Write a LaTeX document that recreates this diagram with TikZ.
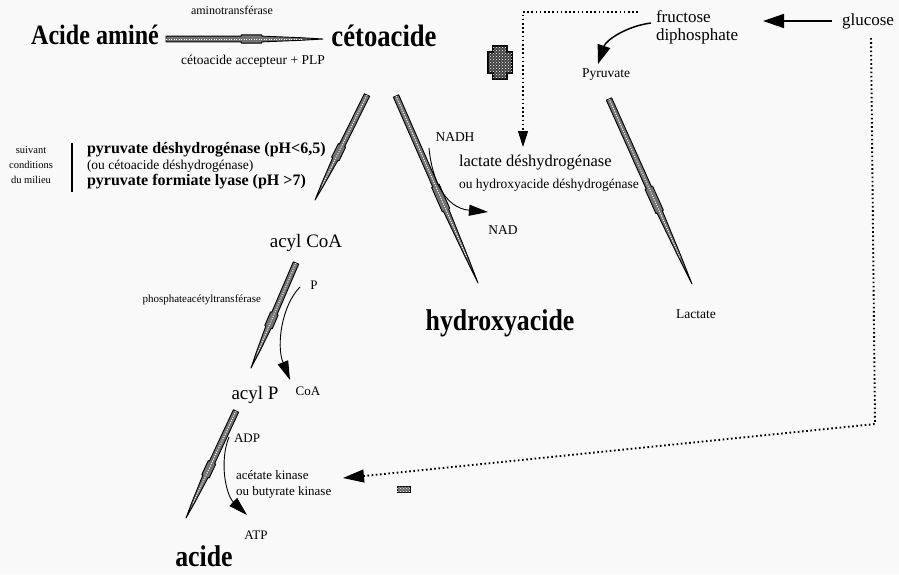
\documentclass[tikz,border=0pt]{standalone}
\usepackage{fontspec}
\setmainfont{Liberation Serif}
\newfontfamily\condserif{Liberation Serif}[FakeStretch=0.86]
\usetikzlibrary{calc,arrows.meta,patterns}
\definecolor{paper}{gray}{0.975}
\tikzset{
  every node/.style={inner sep=0pt, outer sep=0pt},
  tA/.style={font=\fontsize{10.5}{15}\selectfont},
  tB/.style={font=\fontsize{11}{13}\selectfont},
  tC/.style={font=\fontsize{12}{14}\selectfont},
  tH/.style={font=\fontsize{13}{16}\selectfont},
  tD/.style={font=\fontsize{13.5}{15}\selectfont},
  tE/.style={font=\fontsize{16.5}{18}\selectfont},
  tF/.style={font=\fontsize{17}{18}\selectfont},
  tG/.style={font=\fontsize{19}{21}\selectfont},
  bA/.style={font=\bfseries\fontsize{16}{18}\selectfont},
  bB/.style={font=\condserif\bfseries\fontsize{28}{32}\selectfont},
  bC/.style={font=\condserif\bfseries\fontsize{31}{34}\selectfont},
  bD/.style={font=\condserif\bfseries\fontsize{30}{34}\selectfont},
  taperband/.style={fill=black!55, draw=black, line width=0.9pt, line join=round},
  taperdots/.style={white, line width=0.9pt, dash pattern=on 1.1pt off 1.4pt},
  dotline/.style={line width=1.9pt, dash pattern=on 1.6pt off 2.6pt},
  bigtip/.style={line width=1.5pt, -{Triangle[length=21pt,width=14pt]}},
  midtip/.style={line width=1.5pt, -{Triangle[length=19pt,width=13pt]}},
  smalltip/.style={line width=0.9pt, -{Triangle[length=19pt,width=11pt]}},
  dottipA/.style={line width=1pt, -{Triangle[length=16pt,width=10pt]}},
  dottipB/.style={line width=1pt, -{Triangle[length=21pt,width=13pt]}},
  crossfill/.style={fill=black!75, draw=black, line width=1.8pt, line join=miter,
    postaction={pattern=crosshatch dots, pattern color=white}},
}
\newcommand\taperarrow[2]{%
  \coordinate (tpA) at (#1);
  \coordinate (tpB) at (#2);
  \coordinate (tp1) at ($(tpA)!0.48!(tpB)$);
  \coordinate (tp2) at ($(tpA)!0.61!(tpB)$);
  \coordinate (tp3) at ($(tpA)!0.86!(tpB)$);
  \filldraw[taperband] ($(tpA)!2.9pt!90:(tpB)$) -- ($(tp1)!2.9pt!90:(tpB)$) -- ($(tp1)!4.1pt!90:(tpB)$) -- ($(tp2)!4.1pt!90:(tpB)$) -- ($(tp2)!2.9pt!90:(tpB)$) -- ($(tp3)!1.3pt!90:(tpB)$) -- (tpB) -- ($(tp3)!1.3pt!-90:(tpB)$) -- ($(tp2)!2.9pt!-90:(tpB)$) -- ($(tp2)!4.1pt!-90:(tpB)$) -- ($(tp1)!4.1pt!-90:(tpB)$) -- ($(tp1)!2.9pt!-90:(tpB)$) -- ($(tpA)!2.9pt!-90:(tpB)$) -- cycle;
  \draw[taperdots] (tpA) -- (tp3);
}
\begin{document}
\begin{tikzpicture}[x=1pt,y=-1pt]
\fill[paper] (0,0) rectangle (899,574);
\useasboundingbox (0,0) rectangle (899,574);

% top left
\node[bB] (amine) at (95,35) {Acide aminé};
\node[tC] (aminot) at (232,10) {aminotransférase};
\node[bC] (ceto) at (384,36) {cétoacide};
\node[tD] (accept) at (253,61) {cétoacide accepteur + PLP};
\coordinate (h1) at (166,39); \coordinate (h2) at (323,39);
\taperarrow{h1}{h2}

% top right
\node[tF, align=left, anchor=west] (fruc) at (656,27) {fructose\\diphosphate};
\node[tF] (gluc) at (868,21) {glucose};
\coordinate (g1) at (832,21); \coordinate (g2) at (763,21);
\draw[bigtip] (g1) -- (g2);
\node[tD] (pyr) at (606,75) {Pyruvate};
\coordinate (fa) at (651,23); \coordinate (fb) at (598,64);
\draw[midtip] (fa) .. controls (627,26) and (606,40) .. (fb);
\coordinate (p1) at (609,99); \coordinate (p2) at (692,284);
\taperarrow{p1}{p2}
\node[tD] (lac) at (696,314) {Lactate};

% dotted line from fructose to lactate dehydrogenase
\coordinate (d1) at (638,12); \coordinate (d2) at (523,12);
\coordinate (d3) at (523,131); \coordinate (d4) at (523,147);
\draw[dotline] (d1) -- (d2) -- (d3);
\draw[dottipA] (d3) -- (d4);

% cross
\filldraw[crossfill] (493,46) -- (507,46) -- (507,52) -- (512,52) -- (512,73) -- (507,73) -- (507,79) -- (493,79) -- (493,73) -- (488,73) -- (488,52) -- (493,52) -- cycle;

% cetoacide branches
\coordinate (c1) at (367,95); \coordinate (c2) at (315,200);
\taperarrow{c1}{c2}
\coordinate (c3) at (396,96); \coordinate (c4) at (478,283);
\taperarrow{c3}{c4}
\node[tD] (nadh) at (455,137) {NADH};
\coordinate (n1) at (429,148); \coordinate (n2) at (488,212);
\draw[smalltip] (n1) .. controls (432,180) and (445,208) .. (n2);
\node[tD] (nad) at (503,230) {NAD};
\node[tE, anchor=west] (ldh) at (459,163) {lactate déshydrogénase};
\node[tD, anchor=west] (hdh) at (459,185) {ou hydroxyacide déshydrogénase};
\node[bD] (hydroxy) at (500,323) {hydroxyacide};

% conditions
\node[tA, align=center] (cond) at (31,165) {suivant\\conditions\\du milieu};
\coordinate (v1) at (72,143); \coordinate (v2) at (72,192);
\draw[line width=1.2pt] (v1) -- (v2);
\node[bA, anchor=west] (pdh) at (87,150) {pyruvate déshydrogénase (pH<6,5)};
\node[tD, anchor=west] (cdh) at (87,166) {(ou cétoacide déshydrogénase)};
\node[bA, anchor=west] (pfl) at (87,182) {pyruvate formiate lyase (pH >7)};

% left column
\node[tG] (acoa) at (306,243) {acyl CoA};
\coordinate (a1) at (296,263); \coordinate (a2) at (251,368);
\taperarrow{a1}{a2}
\node[tH] (pP) at (314,285) {P};
\node[tB, anchor=east] (pta) at (261,300) {phosphateacétyltransférase};
\coordinate (q1) at (300,287); \coordinate (q2) at (290,380);
\draw[smalltip] (q1) .. controls (282,305) and (276,345) .. (q2);
\node[tH] (coa) at (308,391) {CoA};
\node[tG] (acp) at (255,395) {acyl P};

\coordinate (b1) at (236,411); \coordinate (b2) at (186,518);
\taperarrow{b1}{b2}
\node[tH] (adp) at (247,438) {ADP};
\coordinate (r1) at (229,437); \coordinate (r2) at (247,515);
\draw[smalltip] (r1) .. controls (219,462) and (226,495) .. (r2);
\node[tH, anchor=west] (ack) at (236,475) {acétate kinase};
\node[tH, anchor=west] (bk) at (236,492) {ou butyrate kinase};
\node[tH] (atp) at (256,535) {ATP};
\node[bD] (acide) at (204,556) {acide};

% dotted line from glucose to acetate kinase
\coordinate (e1) at (871,38); \coordinate (e2) at (875,424);
\coordinate (e3) at (364,476); \coordinate (e4) at (343,478);
\draw[dotline] (e1) -- (e2) -- (e3);
\draw[dottipB] (e3) -- (e4);
\filldraw[fill=black!60, draw=black, line width=0.9pt, postaction={pattern=crosshatch dots, pattern color=white}] (397,486) rectangle (410,492);
\end{tikzpicture}
\end{document}
